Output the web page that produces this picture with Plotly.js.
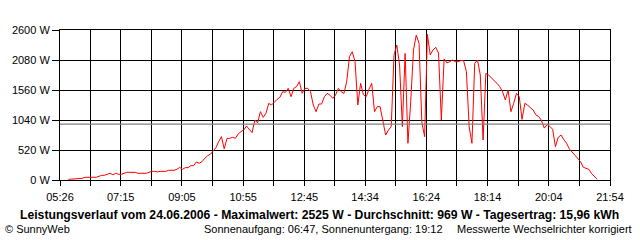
<!DOCTYPE html>
<html>
<head>
<meta charset="utf-8">
<script src="https://cdn.plot.ly/plotly-3.0.1.min.js"></script>
<style>html,body{margin:0;padding:0;background:#fff;}#chart{width:640px;height:240px;}</style>
</head>
<body>
<div id="chart"></div>
<script>
// Tick labels on the time axis
const tickLabels = ["05:26","07:15","09:05","10:55","12:45","14:34","16:24","18:14","20:04","21:54"];
// Power axis ticks (W)
const powerTicks = [0, 520, 1040, 1560, 2080, 2600];
// Measurement series: first sample time and interval
const sampleStart = "05:41";
const sampleStepMin = 5;
// Power readings (W), in time order
const powerEarlyMorning = [12, 15, 29, 29, 29, 29, 47, 47, 47, 47,
  47, 64, 81, 81, 99, 118, 90, 116, 99, 99,
  116, 133, 133, 133, 133, 116, 116, 116, 116, 133,
  150, 150, 140, 150, 150, 150, 168, 168, 168, 185,
  220, 185, 214, 214, 248, 248, 312, 289, 318, 376,
  420, 445];
const powerMorning = [510, 560, 665, 751, 540, 720, 722, 740, 722, 797,
  838, 867, 936, 867, 820, 1040, 990, 1184, 1086, 1156,
  1329, 1300, 1357, 1398, 1433, 1531, 1520, 1589, 1444, 1589,
  1618, 1704, 1502, 1589, 1589, 1530, 1300, 1184, 1317, 1317,
  1444, 1502, 1470];
const powerMidday = [1416, 1473, 1589, 1531, 1500, 1704, 2138, 2224, 2051, 1300,
  1676, 1480, 1444, 1571, 1676, 1184, 1271, 1271, 1040, 780,
  867, 924, 2167, 2340, 1993, 924, 2195, 636, 1357, 2253,
  2513, 2369];
const powerAfternoon = [1000, 751, 2525, 2167, 2253, 2300, 2200, 1040, 2100, 2030,
  2050, 2080, 2051, 2051, 2070, 2070, 1878, 924, 636, 2022,
  2080, 1820, 693, 1849, 1820, 1760, 1720, 1676, 1618, 1530,
  1387, 1560, 1184];
const powerEvening = [1329, 1502, 1444, 1050, 1329, 1300, 1250, 1213, 1127, 1100,
  1030, 900, 960, 930, 878, 578, 740, 780, 700, 636,
  540, 480, 433, 380, 318, 220, 202, 185, 110, 60,
  12];
const averageW = 969;
const titleText = "Leistungsverlauf vom 24.06.2006 - Maximalwert: 2525 W - Durchschnitt: 969 W - Tagesertrag: 15,96 kWh";
const copyrightText = "© SunnyWeb";
const sunText = "Sonnenaufgang: 06:47, Sonnenuntergang: 19:12";
const noteText = "Messwerte Wechselrichter korrigiert";

function toMin(s){ const p = s.split(":"); return (+p[0])*60 + (+p[1]); }

const power = [].concat(powerEarlyMorning, powerMorning, powerMidday, powerAfternoon, powerEvening);
const t0 = toMin(sampleStart);
const times = power.map((_, i) => t0 + i*sampleStepMin);

const tickvals = [], ticktext = [];
tickLabels.forEach((lab, i) => {
  const v = toMin(lab);
  tickvals.push(v); ticktext.push(lab);
  if (i < tickLabels.length - 1) {
    tickvals.push((v + toMin(tickLabels[i+1]))/2); ticktext.push("");
  }
});
const xMin = toMin(tickLabels[0]), xMax = toMin(tickLabels[tickLabels.length-1]);

const L = 60, R = 610, T = 30, B = 180;
const px = x => (x - L)/(R - L);
const py = y => (B - y)/(B - T);
const font = "Liberation Sans, Arial, sans-serif";

const layout = {
  width: 640, height: 240,
  margin: {l: L, r: 640 - R, t: T, b: 240 - B, pad: 0},
  paper_bgcolor: "#ffffff", plot_bgcolor: "#ffffff",
  showlegend: false,
  font: {family: font, size: 11, color: "#000"},
  xaxis: {
    range: [xMin, xMax], tickmode: "array", tickvals: tickvals, ticktext: ticktext,
    ticks: "outside", ticklen: 5, tickwidth: 1, tickcolor: "#000", ticklabelstandoff: 2,
    showgrid: true, gridcolor: "#000", gridwidth: 1,
    showline: true, mirror: true, linecolor: "#000", linewidth: 1,
    zeroline: false, tickfont: {family: font, size: 11, color: "#000"}, fixedrange: true
  },
  yaxis: {
    range: [0, 2600], tickmode: "array", tickvals: powerTicks,
    ticktext: powerTicks.map(v => v + " W"),
    ticks: "outside", ticklen: 7, tickwidth: 1, tickcolor: "#000",
    showgrid: true, gridcolor: "#000", gridwidth: 1,
    showline: true, mirror: true, linecolor: "#000", linewidth: 1,
    zeroline: false, tickfont: {family: font, size: 11, color: "#000"}, fixedrange: true
  },
  shapes: [{
    type: "line", xref: "paper", x0: 0, x1: 1, yref: "y", y0: averageW, y1: averageW,
    line: {color: "#808080", width: 1.3}, layer: "above"
  }],
  annotations: [
    {text: "<b>" + titleText + "</b>", xref: "paper", yref: "paper", x: px(319), y: py(215),
     xanchor: "center", yanchor: "middle", showarrow: false, font: {family: font, size: 12.2, color: "#000"}},
    {text: copyrightText, xref: "paper", yref: "paper", x: px(3), y: py(229),
     xanchor: "left", yanchor: "middle", showarrow: false, font: {family: font, size: 11, color: "#000"}},
    {text: sunText, xref: "paper", yref: "paper", x: px(202), y: py(229),
     xanchor: "left", yanchor: "middle", showarrow: false, font: {family: font, size: 11, color: "#000"}},
    {text: noteText, xref: "paper", yref: "paper", x: px(634), y: py(229),
     xanchor: "right", yanchor: "middle", showarrow: false, font: {family: font, size: 11, color: "#000"}}
  ]
};

const trace = {
  x: times, y: power, type: "scatter", mode: "lines",
  line: {color: "#ff0000", width: 1}, hoverinfo: "skip", cliponaxis: true
};

Plotly.newPlot("chart", [trace], layout, {displayModeBar: false, staticPlot: true});
</script>
</body>
</html>
